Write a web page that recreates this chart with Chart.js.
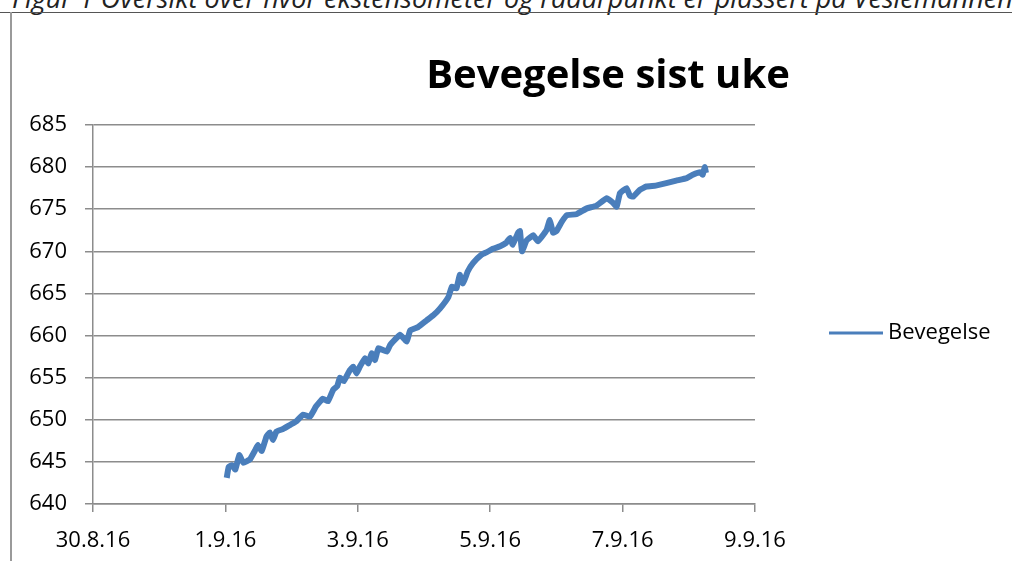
<!DOCTYPE html>
<html>
<head>
<meta charset="utf-8">
<script src="https://cdn.jsdelivr.net/npm/chart.js@4.4.1/dist/chart.umd.min.js"></script>
<style>
  html, body { margin: 0; padding: 0; background: #fff; overflow: hidden; width: 1012px; height: 561px; }
  #caption { position: absolute; left: 12px; top: -16px; font-family: "Open Sans", sans-serif; font-style: italic; font-size: 27px; color: #222; white-space: nowrap; line-height: 28px; }
  #topline { position: absolute; left: 0; top: 12px; width: 1012px; height: 1px; background: #555; }
  #box { position: absolute; left: 10px; top: 12px; width: 1200px; height: 560px; border-left: 2px solid #9a9a9a; }
  #wrap { position: absolute; left: 11px; top: 13px; width: 1194px; height: 548px; }
</style>
</head>
<body>
<div id="caption">Figur 1 Oversikt over hvor ekstensometer og radarpunkt er plassert på Veslemannen</div>
<div id="topline"></div>
<div id="box"></div>
<div id="wrap"><canvas id="c" width="1194" height="548"></canvas></div>
<script>
// Days since 30.8.16 00:00
const days = [2.02,2.05,2.10,2.15,2.21,2.27,2.37,2.45,2.49,2.55,2.62,2.67,2.72,2.77,2.87,2.98,3.07,3.17,3.28,3.37,3.47,3.55,3.63,3.69,3.73,3.79,3.88,3.93,3.98,4.03,4.11,4.16,4.21,4.26,4.31,4.44,4.49,4.64,4.74,4.79,4.91,5.04,5.14,5.24,5.37,5.42,5.49,5.54,5.59,5.66,5.74,5.87,5.95,6.04,6.15,6.24,6.30,6.34,6.42,6.45,6.48,6.55,6.65,6.72,6.85,6.90,6.95,7.00,7.08,7.16,7.30,7.46,7.60,7.76,7.85,7.91,7.96,8.06,8.11,8.16,8.26,8.36,8.50,8.66,8.81,8.97,9.06,9.17,9.21,9.24,9.26];
const bevegelse = [643.1,644.4,644.6,644.1,645.8,644.9,645.3,646.4,647.0,646.3,648.0,648.5,647.6,648.6,648.9,649.4,649.8,650.6,650.4,651.6,652.5,652.2,653.6,654.0,655.0,654.6,655.9,656.3,655.5,656.3,657.3,656.7,657.9,657.1,658.5,658.1,658.9,660.1,659.3,660.6,661.0,661.8,662.4,663.2,664.6,665.8,665.6,667.2,666.2,667.6,668.6,669.6,669.9,670.3,670.6,671.0,671.6,670.8,672.2,672.4,670.0,671.3,671.9,671.2,672.5,673.7,672.2,672.4,673.5,674.3,674.4,675.1,675.4,676.3,675.8,675.3,676.9,677.5,676.6,676.5,677.3,677.7,677.8,678.1,678.4,678.7,679.1,679.4,679.1,680.0,679.3];
const xTickLabels = ['30.8.16','1.9.16','3.9.16','5.9.16','7.9.16','9.9.16'];
const yTicks = [640,645,650,655,660,665,670,675,680,685];
const seriesName = 'Bevegelse';
const titleText = 'Bevegelse sist uke';

const points = days.map((d, i) => ({ x: d, y: bevegelse[i] }));
const lineColor = '#4a7ebb';
const gridColor = '#8c8c8c';
const fontFam = '"Open Sans", sans-serif';

const legendPlugin = {
  id: 'sideLegend',
  afterDraw(chart) {
    const ctx = chart.ctx;
    const ds = chart.data.datasets[0];
    const y = 320;
    ctx.save();
    ctx.strokeStyle = ds.borderColor;
    ctx.lineWidth = 3;
    ctx.lineCap = 'butt';
    ctx.beginPath();
    ctx.moveTo(818, y);
    ctx.lineTo(872, y);
    ctx.stroke();
    ctx.fillStyle = '#000';
    ctx.font = '22px ' + fontFam;
    ctx.textBaseline = 'middle';
    ctx.textAlign = 'left';
    ctx.fillText(ds.label, 877, y);
    ctx.restore();
  }
};

new Chart(document.getElementById('c'), {
  type: 'line',
  data: {
    datasets: [{
      label: seriesName,
      data: points,
      borderColor: lineColor,
      backgroundColor: lineColor,
      borderWidth: 6,
      pointRadius: 0,
      tension: 0.1,
      fill: false
    }]
  },
  options: {
    responsive: false,
    animation: false,
    layout: { padding: 0 },
    plugins: {
      legend: { display: false },
      tooltip: { enabled: false },
      title: {
        display: true,
        text: titleText,
        color: '#000',
        font: { family: fontFam, size: 40, weight: 'bold', lineHeight: 1.2 },
        padding: { top: 40, bottom: 24 }
      }
    },
    scales: {
      x: {
        type: 'linear',
        min: 0,
        max: 10,
        afterBuildTicks(scale) {
          scale.ticks = xTickLabels.map((_, i) => ({ value: i * 2 }));
        },
        afterFit(scale) { scale.height = 57; },
        ticks: {
          color: '#000',
          font: { family: fontFam, size: 22 },
          padding: 16,
          maxRotation: 0,
          autoSkip: false,
          callback: (v, i) => xTickLabels[i]
        },
        grid: { display: true, drawOnChartArea: false, drawTicks: true, tickLength: 8, color: gridColor, lineWidth: 1.5 },
        border: { display: true, color: gridColor, width: 1.5 }
      },
      y: {
        min: 640,
        max: 685,
        afterBuildTicks(scale) {
          scale.ticks = yTicks.map(v => ({ value: v }));
        },
        afterFit(scale) { scale.width = 82; },
        ticks: {
          color: '#000',
          font: { family: fontFam, size: 22 },
          padding: 18
        },
        grid: { display: true, drawTicks: true, tickLength: 8, color: gridColor, lineWidth: 1.5 },
        border: { display: true, color: gridColor, width: 1.5 }
      },
      legendSpace: {
        type: 'linear',
        position: 'right',
        display: true,
        min: 0,
        max: 1,
        afterFit(scale) { scale.width = 450; },
        ticks: { display: false },
        grid: { display: false, drawTicks: false },
        border: { display: false }
      }
    }
  },
  plugins: [legendPlugin]
});
</script>
</body>
</html>
